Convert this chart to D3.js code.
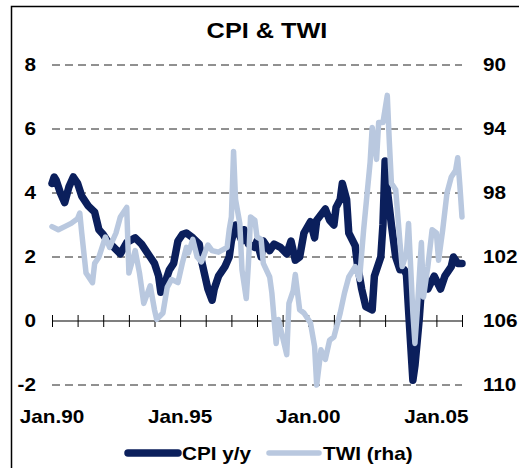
<!DOCTYPE html>
<html>
<head>
<meta charset="utf-8">
<script src="https://cdnjs.cloudflare.com/ajax/libs/d3/7.8.5/d3.min.js"></script>
<style>
  body { margin: 0; background: #fff; }
  svg { display: block; }
  text { font-family: "Liberation Sans", Arial, sans-serif; font-weight: bold; fill: #000; }
</style>
</head>
<body>
<div id="chart"></div>
<script>
var titleText = "CPI & TWI";
var leftTicks = [-2, 0, 2, 4, 6, 8];
var rightTicks = [90, 94, 98, 102, 106, 110];
var xTickYears = [1990, 1995, 2000, 2005];
var seriesNames = ["CPI y/y", "TWI (rha)"];

var cpiData = [
  ["1990-01", 4.3], ["1990-02", 4.5], ["1990-03", 4.4], ["1990-05", 4.0], ["1990-07", 3.7],
  ["1990-09", 4.2], ["1990-11", 4.5], ["1991-01", 4.3], ["1991-03", 3.9], ["1991-06", 3.6],
  ["1991-09", 3.4], ["1991-11", 2.85], ["1992-01", 2.7], ["1992-03", 2.5], ["1992-06", 2.3],
  ["1992-09", 2.1], ["1992-12", 2.45], ["1993-04", 2.6], ["1993-07", 2.4], ["1993-10", 2.1],
  ["1993-11", 2.0], ["1994-01", 1.8], ["1994-03", 1.4], ["1994-04", 0.9], ["1994-06", 1.2],
  ["1994-08", 1.6], ["1994-10", 1.8], ["1994-12", 2.5], ["1995-02", 2.7], ["1995-04", 2.75],
  ["1995-07", 2.6], ["1995-10", 2.4], ["1995-11", 1.9], ["1996-02", 1.0], ["1996-04", 0.65],
  ["1996-05", 1.0], ["1996-07", 1.4], ["1996-10", 1.7], ["1996-12", 2.0], ["1997-01", 2.5],
  ["1997-03", 3.0], ["1997-06", 2.5], ["1997-07", 2.85], ["1997-09", 2.4], ["1997-12", 2.3],
  ["1998-01", 2.5], ["1998-03", 2.0], ["1998-04", 2.5], ["1998-07", 2.2], ["1998-09", 2.4],
  ["1998-12", 2.3], ["1999-03", 2.1], ["1999-05", 2.5], ["1999-07", 1.9], ["1999-09", 2.0],
  ["1999-11", 2.75], ["2000-02", 3.1], ["2000-04", 2.6], ["2000-05", 3.15], ["2000-09", 3.5],
  ["2000-11", 3.15], ["2001-01", 3.0], ["2001-02", 3.55], ["2001-04", 3.8], ["2001-05", 4.3],
  ["2001-07", 3.8], ["2001-08", 2.75], ["2001-11", 2.35], ["2001-12", 1.8], ["2002-02", 1.0],
  ["2002-04", 0.45], ["2002-07", 0.35], ["2002-08", 1.4], ["2002-09", 1.6], ["2002-11", 2.0],
  ["2002-12", 3.0], ["2003-01", 5.0], ["2003-02", 4.1], ["2003-04", 3.0], ["2003-06", 2.0],
  ["2003-08", 1.6], ["2003-10", 1.6], ["2003-11", 1.45], ["2003-12", 0.35], ["2004-02", -1.85],
  ["2004-03", -1.4], ["2004-05", 0.05], ["2004-06", 1.0], ["2004-08", 1.3], ["2004-09", 1.0],
  ["2004-12", 1.4], ["2005-03", 1.0], ["2005-05", 1.4], ["2005-08", 1.7], ["2005-09", 2.0],
  ["2005-11", 1.8], ["2006-01", 1.8]
];

var twiData = [
  ["1990-01", 100.1], ["1990-04", 100.3], ["1990-07", 100.1], ["1990-10", 99.9], ["1991-01", 99.6],
  ["1991-02", 99.25], ["1991-03", 100.5], ["1991-05", 103.0], ["1991-08", 103.6], ["1991-09", 102.4],
  ["1991-11", 102.0], ["1992-02", 100.75], ["1992-04", 101.4], ["1992-07", 100.5], ["1992-09", 99.5],
  ["1992-12", 98.9], ["1993-01", 103.0], ["1993-04", 101.6], ["1993-06", 103.0], ["1993-08", 104.9],
  ["1993-11", 103.8], ["1994-01", 105.3], ["1994-02", 105.9], ["1994-05", 105.5], ["1994-07", 103.9],
  ["1994-09", 103.4], ["1994-12", 103.6], ["1995-02", 102.4], ["1995-04", 101.4], ["1995-05", 101.75],
  ["1995-07", 100.9], ["1995-09", 102.0], ["1995-11", 102.3], ["1996-02", 101.25], ["1996-04", 101.6],
  ["1996-07", 101.7], ["1996-11", 101.4], ["1996-12", 100.3], ["1997-01", 99.5], ["1997-02", 95.4],
  ["1997-03", 98.4], ["1997-05", 99.9], ["1997-06", 102.8], ["1997-08", 104.6], ["1997-09", 102.4],
  ["1997-10", 99.5], ["1997-12", 99.7], ["1998-01", 100.75], ["1998-03", 100.9], ["1998-04", 102.4],
  ["1998-07", 103.25], ["1998-08", 104.25], ["1998-10", 107.4], ["1998-11", 105.9], ["1999-01", 107.0],
  ["1999-03", 108.1], ["1999-04", 104.9], ["1999-06", 104.1], ["1999-07", 103.1], ["1999-09", 105.3],
  ["1999-11", 105.5], ["2000-02", 106.1], ["2000-04", 107.6], ["2000-05", 110.0], ["2000-07", 107.8],
  ["2000-09", 108.4], ["2000-11", 107.2], ["2001-01", 107.0], ["2001-04", 105.5], ["2001-06", 104.25],
  ["2001-08", 103.25], ["2001-11", 102.6], ["2002-01", 103.4], ["2002-03", 100.3], ["2002-06", 96.1],
  ["2002-07", 93.9], ["2002-09", 95.9], ["2002-10", 93.6], ["2002-12", 93.6], ["2003-02", 91.9],
  ["2003-03", 94.7], ["2003-04", 97.4], ["2003-06", 97.8], ["2003-08", 101.1], ["2003-09", 102.6],
  ["2003-11", 101.75], ["2003-12", 99.9], ["2004-02", 105.5], ["2004-03", 107.4], ["2004-04", 105.5],
  ["2004-06", 101.1], ["2004-07", 104.5], ["2004-09", 102.6], ["2004-11", 100.3], ["2005-01", 100.5],
  ["2005-02", 102.2], ["2005-04", 100.3], ["2005-06", 98.0], ["2005-08", 97.0], ["2005-10", 96.6],
  ["2005-11", 95.8], ["2005-12", 97.5], ["2006-01", 99.5]
];

var W = 519, H = 468;
var plot = {left: 52, right: 462, top: 65, bottom: 385};
var cpiColor = "#0b1f5c", twiColor = "#b9c8df";
var stretch = 1.15; // text in the original is drawn slightly wide

var parseMonth = d3.timeParse("%Y-%m");

var x = d3.scaleTime()
    .domain([new Date(1990, 0, 1), new Date(2006, 0, 1)])
    .range([plot.left, plot.right]);
var yL = d3.scaleLinear().domain([-2, 8]).range([plot.bottom, plot.top]);
var yR = d3.scaleLinear().domain([90, 110]).range([plot.top, plot.bottom]);

var svg = d3.select("#chart").append("svg")
    .attr("width", W)
    .attr("height", H);

var at = function (px, py) {
    return "translate(" + px + "," + py + ") scale(" + stretch + ",1)";
};

// frame (only top and left edges fall inside the window)
svg.append("rect")
    .attr("x", 11.5).attr("y", 6.5)
    .attr("width", 700).attr("height", 700)
    .attr("fill", "none")
    .attr("stroke", "#000")
    .attr("stroke-width", 1.5);

svg.append("text")
    .attr("transform", at(267, 38))
    .attr("text-anchor", "middle")
    .style("font-size", "22px")
    .text(titleText);

// dashed gridlines
svg.append("g").selectAll("line")
    .data(leftTicks.filter(function (d) { return d !== 0; }))
    .enter().append("line")
    .attr("x1", plot.left).attr("x2", plot.right)
    .attr("y1", function (d) { return yL(d); })
    .attr("y2", function (d) { return yL(d); })
    .attr("stroke", "#222")
    .attr("stroke-width", 1)
    .attr("stroke-dasharray", "8,5");

// zero axis with yearly ticks
var yearTicks = d3.timeYear.range(new Date(1990, 0, 1), new Date(2006, 0, 2));
var xAxis = d3.axisBottom(x)
    .tickValues(yearTicks)
    .tickSize(12)
    .tickFormat("");
var xg = svg.append("g")
    .attr("transform", "translate(0," + (yL(0) - 6) + ")")
    .call(xAxis);
xg.select(".domain").remove();
xg.selectAll(".tick line").attr("stroke", "#000").attr("stroke-width", 1);
svg.append("line")
    .attr("x1", plot.left).attr("x2", plot.right)
    .attr("y1", yL(0)).attr("y2", yL(0))
    .attr("stroke", "#000").attr("stroke-width", 1.2);

// left labels
svg.append("g").selectAll("text")
    .data(leftTicks)
    .enter().append("text")
    .attr("transform", function (d) { return at(36, yL(d)); })
    .attr("dy", "0.35em")
    .attr("text-anchor", "end")
    .style("font-size", "18px")
    .text(function (d) { return d; });

// right labels
svg.append("g").selectAll("text")
    .data(rightTicks)
    .enter().append("text")
    .attr("transform", function (d) { return at(483, yR(d)); })
    .attr("dy", "0.35em")
    .style("font-size", "18px")
    .text(function (d) { return d; });

// x labels
var fmtYear = d3.timeFormat("%y");
svg.append("g").selectAll("text")
    .data(xTickYears)
    .enter().append("text")
    .attr("transform", function (d) { return at(x(new Date(d, 0, 1)), 423); })
    .attr("text-anchor", "middle")
    .style("font-size", "18px")
    .text(function (d) { return "Jan." + fmtYear(new Date(d, 0, 1)); });

var cpiLine = d3.line()
    .x(function (d) { return x(parseMonth(d[0])); })
    .y(function (d) { return yL(d[1]); });
var twiLine = d3.line()
    .x(function (d) { return x(parseMonth(d[0])); })
    .y(function (d) { return yR(d[1]); });

svg.append("path")
    .datum(cpiData)
    .attr("d", cpiLine)
    .attr("fill", "none")
    .attr("stroke", cpiColor)
    .attr("stroke-width", 7.5)
    .attr("stroke-linejoin", "round")
    .attr("stroke-linecap", "round");

svg.append("path")
    .datum(twiData)
    .attr("d", twiLine)
    .attr("fill", "none")
    .attr("stroke", twiColor)
    .attr("stroke-width", 5.5)
    .attr("stroke-linejoin", "round")
    .attr("stroke-linecap", "round");

// legend
var legend = [
  {name: seriesNames[0], color: cpiColor, width: 7.5, x1: 128, x2: 178, tx: 182},
  {name: seriesNames[1], color: twiColor, width: 5.5, x1: 269, x2: 319, tx: 323}
];
var lg = svg.append("g").selectAll("g").data(legend).enter().append("g");
lg.append("line")
    .attr("x1", function (d) { return d.x1; })
    .attr("x2", function (d) { return d.x2; })
    .attr("y1", 453).attr("y2", 453)
    .attr("stroke", function (d) { return d.color; })
    .attr("stroke-width", function (d) { return d.width; })
    .attr("stroke-linecap", "round");
lg.append("text")
    .attr("transform", function (d) { return at(d.tx, 460); })
    .style("font-size", "18px")
    .text(function (d) { return d.name; });
</script>
</body>
</html>
